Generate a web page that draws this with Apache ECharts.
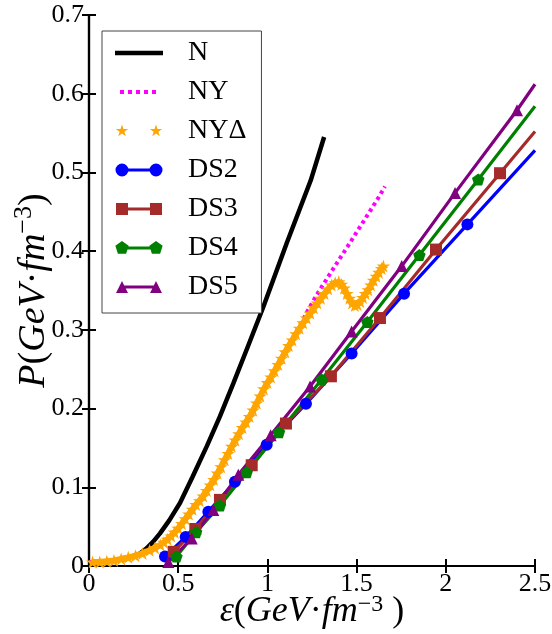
<!DOCTYPE html>
<html><head><meta charset="utf-8">
<script src="https://cdn.jsdelivr.net/npm/echarts@6/dist/echarts.min.js"></script>
<style>html,body{margin:0;padding:0;background:#fff}#c{width:552px;height:634px}</style>
</head><body><div id="c"></div>
<script>
// ---- data (energy density eps, pressure P) ----
const nEps = [0.02,0.10,0.20,0.28,0.323,0.36,0.398,0.45,0.51,0.58,0.66,0.734,0.809,0.884,0.977,1.108,1.243,1.318];
const nP   = [0.004,0.006,0.009,0.015,0.0225,0.031,0.0415,0.058,0.080,0.113,0.152,0.19,0.232,0.275,0.329,0.41,0.49,0.545];

const nyEps = [0.0,0.1,0.2,0.3,0.4,0.5,0.6,0.7,0.8,0.9,1.0,1.1,1.16,1.20,1.23,1.27,1.30,1.37,1.45,1.50,1.57,1.62,1.659];
const nyP   = [0.005,0.006,0.010,0.016,0.027,0.048,0.078,0.110,0.152,0.190,0.233,0.272,0.296,0.313,0.326,0.342,0.353,0.378,0.406,0.424,0.449,0.467,0.482];

const nydEps = [0.02,0.06,0.10,0.14,0.18,0.22,0.26,0.30,0.34,0.37,0.40,0.42,0.44,0.46,0.48,0.50,0.52,0.54,0.56,0.58,
  0.60,0.62,0.64,0.66,0.68,0.70,0.72,0.74,0.76,0.78,0.80,0.82,0.84,0.86,0.88,0.90,0.92,0.94,0.96,0.98,
  1.00,1.02,1.04,1.06,1.08,1.10,1.12,1.14,1.16,1.18,1.20,1.22,1.24,1.26,1.28,1.30,1.32,1.34,1.36,1.38,
  1.40,1.415,1.43,1.445,1.46,1.475,1.49,1.505,1.52,1.535,1.55,1.565,1.58,1.595,1.61,1.625,1.64,1.65];
const nydP = [0.005,0.005,0.006,0.007,0.009,0.011,0.013,0.016,0.020,0.023,0.027,0.030,0.034,0.038,0.043,0.048,0.054,0.060,0.066,0.072,
  0.078,0.083,0.089,0.096,0.103,0.110,0.118,0.126,0.135,0.143,0.152,0.160,0.168,0.176,0.183,0.190,0.198,0.207,0.216,0.225,
  0.233,0.240,0.248,0.256,0.264,0.272,0.280,0.287,0.295,0.302,0.309,0.315,0.321,0.328,0.334,0.340,0.346,0.352,0.357,0.360,
  0.361,0.358,0.353,0.346,0.340,0.334,0.331,0.332,0.336,0.341,0.346,0.351,0.357,0.363,0.368,0.373,0.378,0.381];

// last point of each DS list is where the line leaves the frame (no marker)
const ds2Eps = [0.426,0.542,0.669,0.818,0.996,1.216,1.472,1.766,2.121,2.5];
const ds2P   = [0.012,0.037,0.069,0.107,0.154,0.206,0.270,0.346,0.434,0.528];
const ds3Eps = [0.475,0.596,0.734,0.912,1.104,1.356,1.631,1.945,2.304,2.5];
const ds3P   = [0.018,0.047,0.084,0.128,0.181,0.241,0.315,0.402,0.499,0.552];
const ds4Eps = [0.49,0.60,0.734,0.884,1.065,1.304,1.560,1.852,2.182,2.5];
const ds4P   = [0.012,0.043,0.077,0.119,0.170,0.237,0.310,0.395,0.491,0.584];
const ds5Eps = [0.445,0.576,0.697,0.837,1.018,1.239,1.472,1.753,2.052,2.399,2.5];
const ds5P   = [0.005,0.035,0.071,0.116,0.166,0.228,0.298,0.381,0.474,0.579,0.612];

const seriesNames = ['N','NY','NYΔ','DS2','DS3','DS4','DS5'];
const xMin = 0, xMax = 2.5, xStep = 0.5;
const yMin = 0, yMax = 0.7, yStep = 0.1;

// ---- helpers ----
const pairs = (xs, ys) => xs.map((x, i) => [x, ys[i]]);
const marked = (xs, ys) => xs.map((x, i) => i === xs.length - 1 ? {value: [x, ys[i]], symbol: 'none'} : [x, ys[i]]);

const STAR = 'path://M0,-10L2.245,-3.09L9.511,-3.09L3.633,1.18L5.878,8.09L0,3.82L-5.878,8.09L-3.633,1.18L-9.511,-3.09L-2.245,-3.09Z';
const PENTA = 'path://M0,-10L9.511,-3.09L5.878,8.09L-5.878,8.09L-9.511,-3.09Z';

const BOX = 'M0,0M68,16';
const icons = {
  'N': 'path://' + BOX + 'M0,5.7H48V10.3H0Z',
  'NY': 'path://' + BOX + 'M5,6H9V10H5ZM13,6H17V10H13ZM21,6H25V10H21ZM29,6H33V10H29ZM37,6H41V10H37Z',
  'NYΔ': 'path://' + BOX + 'M7,1.5L8.46,5.99L13.18,5.99L9.36,8.77L10.82,13.26L7,10.48L3.18,13.26L4.64,8.77L0.82,5.99L5.54,5.99Z' +
         'M41,1.5L42.46,5.99L47.18,5.99L43.36,8.77L44.82,13.26L41,10.48L37.18,13.26L38.64,8.77L34.82,5.99L39.54,5.99Z',
  'DS2': 'path://' + BOX + 'M0.5,8A6.5,6.5,0,1,1,13.5,8A6.5,6.5,0,1,1,0.5,8ZM34.5,8A6.5,6.5,0,1,1,47.5,8A6.5,6.5,0,1,1,34.5,8ZM7,6.5H41V9.5H7Z',
  'DS3': 'path://' + BOX + 'M1,2H13V14H1ZM35,2H47V14H35ZM7,6.5H41V9.5H7Z',
  'DS4': 'path://' + BOX + 'M7,1L13.66,5.84L11.11,13.66L2.89,13.66L0.34,5.84ZM41,1L47.66,5.84L45.11,13.66L36.89,13.66L34.34,5.84ZM7,6.5H41V9.5H7Z',
  'DS5': 'path://' + BOX + 'M7,2L13,14L1,14ZM41,2L47,14L35,14ZM7,6.5H41V9.5H7Z'
};

const FONT = 'Liberation Serif';
const mkRich = (fs, lh) => ({
  i: {fontFamily: FONT, fontStyle: 'italic', fontSize: fs, lineHeight: lh, color: '#000'},
  r: {fontFamily: FONT, fontSize: fs, lineHeight: lh, color: '#000'},
  s: {fontFamily: FONT, fontSize: Math.round(fs * 0.68), lineHeight: Math.round(fs * 0.68), verticalAlign: 'top', color: '#000'}
});

const axisCommon = {
  type: 'value',
  axisLine: {show: true, lineStyle: {color: '#000', width: 2.2}},
  axisTick: {show: true, inside: true, length: 7, lineStyle: {color: '#000', width: 2}},
  splitLine: {show: false},
  axisLabel: {color: '#000', fontFamily: FONT, fontSize: 26}
};

const chart = echarts.init(document.getElementById('c'), null, {renderer: 'canvas'});
chart.setOption({
  animation: false,
  backgroundColor: '#fff',
  grid: {left: 89, right: 17, top: 15, bottom: 68, containLabel: false, outerBoundsMode: 'none'},
  xAxis: [
    Object.assign({}, axisCommon, {min: xMin, max: xMax, interval: xStep, position: 'bottom',
      axisLabel: Object.assign({}, axisCommon.axisLabel, {margin: 5}),
      name: '{i|ε}{r|(}{i|GeV}{r|·}{i|fm}{s|−3}{r| )}', nameLocation: 'middle', nameGap: 27, nameMoveOverlap: false,
      nameTextStyle: {rich: mkRich(36, 38)}}),
    Object.assign({}, axisCommon, {min: xMin, max: xMax, interval: xStep, position: 'top', axisLabel: {show: false}})
  ],
  yAxis: [
    Object.assign({}, axisCommon, {min: yMin, max: yMax, interval: yStep, position: 'left',
      axisLabel: Object.assign({}, axisCommon.axisLabel, {margin: 5}),
      name: '{i|P}{r|(}{i|GeV}{r|·}{i|fm}{s|−3}{r|)}', nameLocation: 'middle', nameGap: 32, nameMoveOverlap: false,
      nameTextStyle: {rich: mkRich(38, 46)}}),
    Object.assign({}, axisCommon, {min: yMin, max: yMax, interval: yStep, position: 'right', axisLabel: {show: false}})
  ],
  legend: {
    orient: 'vertical', left: 102, top: 31,
    padding: [8, 15, 12, 13],
    itemWidth: 68, itemHeight: 16, itemGap: 11,
    backgroundColor: '#fff', borderColor: '#444', borderWidth: 1, borderRadius: 0,
    itemStyle: {borderWidth: 0},
    textStyle: {fontFamily: FONT, fontSize: 28, lineHeight: 28, color: '#000'},
    data: seriesNames.map(n => ({name: n, icon: icons[n]}))
  },
  series: [
    {name: 'N', type: 'line', data: pairs(nEps, nP), symbol: 'none', color: '#000',
     lineStyle: {color: '#000', width: 4.5}},
    {name: 'NY', type: 'line', data: pairs(nyEps, nyP), symbol: 'none', color: '#ff00ff',
     lineStyle: {color: '#ff00ff', width: 4, type: [3.5, 3.5], cap: 'butt'}},
    {name: 'NYΔ', type: 'line', data: pairs(nydEps, nydP), symbol: STAR, symbolSize: [13.5, 13], showAllSymbol: true,
     color: '#ffa500', itemStyle: {color: '#ffa500', borderWidth: 0}, lineStyle: {color: '#ffa500', width: 6}},
    {name: 'DS2', type: 'line', data: marked(ds2Eps, ds2P), symbol: 'circle', symbolSize: 12, showAllSymbol: true,
     color: '#0000ff', itemStyle: {color: '#0000ff', borderWidth: 0}, lineStyle: {color: '#0000ff', width: 3.2}},
    {name: 'DS3', type: 'line', data: marked(ds3Eps, ds3P), symbol: 'rect', symbolSize: 12, showAllSymbol: true,
     color: '#a52a2a', itemStyle: {color: '#a52a2a', borderWidth: 0}, lineStyle: {color: '#a52a2a', width: 3.2}},
    {name: 'DS4', type: 'line', data: marked(ds4Eps, ds4P), symbol: PENTA, symbolSize: [12.5, 12], showAllSymbol: true,
     color: '#008000', itemStyle: {color: '#008000', borderWidth: 0}, lineStyle: {color: '#008000', width: 3.2}},
    {name: 'DS5', type: 'line', data: marked(ds5Eps, ds5P), symbol: 'triangle', symbolSize: 12, showAllSymbol: true,
     color: '#800080', itemStyle: {color: '#800080', borderWidth: 0}, lineStyle: {color: '#800080', width: 3.2}}
  ]
});
</script>
</body></html>
